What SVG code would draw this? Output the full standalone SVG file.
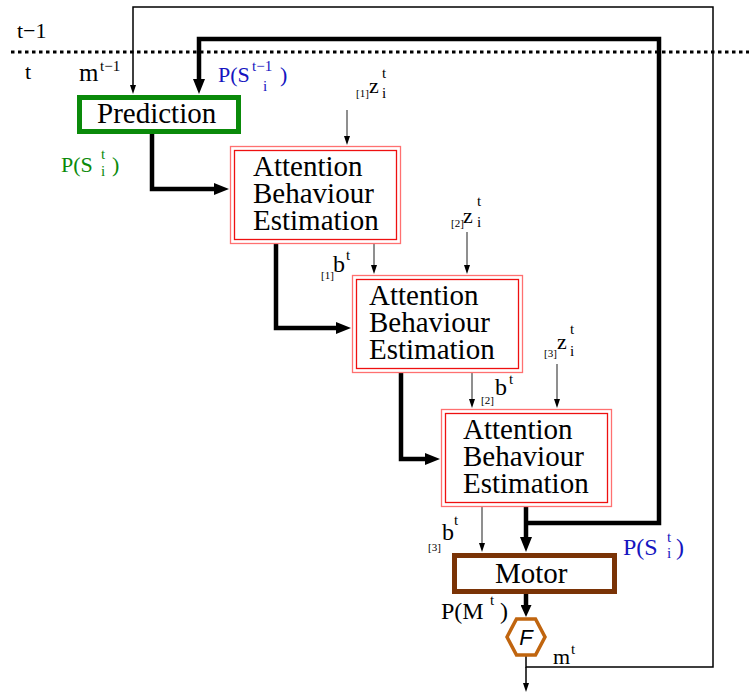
<svg xmlns="http://www.w3.org/2000/svg" width="749" height="693" viewBox="0 0 749 693">
<style>
text{font-family:"Liberation Serif","Times New Roman",serif;fill:#000}
.big{font-size:29px}
.lab{font-size:22px}
.sup{font-size:15px}
.idx{font-size:11px}
.blue{fill:#1515c0}
.green{fill:#0a8a0a}
.thick{fill:none;stroke:#000;stroke-width:4.5;stroke-linejoin:miter}
.thin{fill:none;stroke:#000;stroke-width:1.5}
.in{fill:none;stroke:#333;stroke-width:1.1}
.outer{fill:#fff;stroke:#ff7070;stroke-width:1.3}
.inner{fill:none;stroke:#ee1010;stroke-width:1.3}
</style>
<defs>
<marker id="ah" viewBox="0 0 15 12" markerWidth="15" markerHeight="12" refX="1" refY="6" orient="auto" markerUnits="userSpaceOnUse"><path d="M0,0 L15,6 L0,12 z" fill="#000"/></marker>
<marker id="ah2" viewBox="0 0 12 11" markerWidth="12" markerHeight="11" refX="1" refY="5.5" orient="auto" markerUnits="userSpaceOnUse"><path d="M0,0 L12,5.5 L0,11 z" fill="#000"/></marker>
<marker id="at" viewBox="0 0 9 6" markerWidth="9" markerHeight="6" refX="1" refY="3" orient="auto" markerUnits="userSpaceOnUse"><path d="M0,0 L9,3 L0,6 z" fill="#000"/></marker>
</defs>

<g id="timeline">
<line x1="11" y1="52" x2="749" y2="52" stroke="#000" stroke-width="3" stroke-dasharray="3.5 3.5"/>
<text class="lab" x="17" y="38">t−1</text>
<text class="lab" x="25" y="79">t</text>
</g>

<g id="connectors">
<path class="thick" d="M152,134 V189 H215" marker-end="url(#ah)"/>
<path class="thick" d="M276,243 V328 H337" marker-end="url(#ah)"/>
<path class="thick" d="M401,372 V459 H426" marker-end="url(#ah)"/>
<path class="thick" d="M526,507 V538" marker-end="url(#ah)"/>
<path class="thick" d="M526,523 H659 V39 H199 V80" marker-end="url(#ah)"/>
<path class="thick" d="M526,594 V606" marker-end="url(#ah2)"/>
<path class="thin" d="M526,656 V667 H713 V7 H133 V86" marker-end="url(#at)"/>
<path class="thin" d="M526,667 V684" marker-end="url(#at)"/>
<path class="in" d="M347,110 V137" marker-end="url(#at)"/>
<path class="in" d="M374,243 V266" marker-end="url(#at)"/>
<path class="in" d="M467,232 V266" marker-end="url(#at)"/>
<path class="in" d="M472,372 V400" marker-end="url(#at)"/>
<path class="in" d="M557,364 V400" marker-end="url(#at)"/>
<path class="in" d="M482,507 V544" marker-end="url(#at)"/>
</g>

<g id="prediction">
<rect x="79.5" y="97.5" width="159" height="34" fill="#fff" stroke="#0a8a0a" stroke-width="5"/>
<text class="big" x="97" y="123">Prediction</text>
</g>

<g id="abe1">
<rect class="outer" x="230.5" y="146.5" width="170" height="97"/>
<rect class="inner" x="234.5" y="150.5" width="162" height="89"/>
<text class="big" x="253" y="176">Attention</text>
<text class="big" x="253" y="203">Behaviour</text>
<text class="big" x="253" y="230">Estimation</text>
</g>

<g id="abe2">
<rect class="outer" x="352.5" y="275.5" width="170" height="97"/>
<rect class="inner" x="356.5" y="279.5" width="162" height="89"/>
<text class="big" x="369" y="305">Attention</text>
<text class="big" x="369" y="332">Behaviour</text>
<text class="big" x="369" y="359">Estimation</text>
</g>

<g id="abe3">
<rect class="outer" x="441.5" y="409.5" width="170" height="97"/>
<rect class="inner" x="445.5" y="413.5" width="162" height="89"/>
<text class="big" x="463" y="439">Attention</text>
<text class="big" x="463" y="466">Behaviour</text>
<text class="big" x="463" y="493">Estimation</text>
</g>

<g id="motor">
<rect x="454.5" y="555.5" width="160" height="36" fill="#fff" stroke="#7a3306" stroke-width="5"/>
<text class="big" x="495" y="583">Motor</text>
</g>

<g id="filter">
<path d="M507,637 L516.5,619 L535.5,619 L545,637 L535.5,655 L516.5,655 Z" fill="#fff" stroke="#c0650f" stroke-width="3.5"/>
<text x="526" y="645" text-anchor="middle" style="font-family:'Liberation Sans',Arial,sans-serif;font-style:italic;font-size:22px">F</text>
</g>

<g id="labels">
<text><tspan class="lab" x="79" y="81" style="font-size:25px">m</tspan><tspan class="sup" x="100" y="71">t−1</tspan></text>
<text class="blue"><tspan class="lab" x="218" y="82">P(S</tspan><tspan class="sup" x="252" y="71">t−1</tspan><tspan class="sup" x="263" y="91">i</tspan><tspan class="lab" x="280" y="82">)</tspan></text>
<text class="green"><tspan class="lab" x="61" y="172">P(S</tspan><tspan class="sup" x="101" y="159">t</tspan><tspan class="sup" x="101" y="176">i</tspan><tspan class="lab" x="112" y="172">)</tspan></text>
<text><tspan class="idx" x="356" y="97">[1]</tspan><tspan class="lab" x="369" y="93">z</tspan><tspan class="sup" x="382" y="78">t</tspan><tspan class="sup" x="382" y="98">i</tspan></text>
<text><tspan class="idx" x="451" y="227">[2]</tspan><tspan class="lab" x="463" y="223">z</tspan><tspan class="sup" x="477" y="206">t</tspan><tspan class="sup" x="477" y="227">i</tspan></text>
<text><tspan class="idx" x="544" y="357">[3]</tspan><tspan class="lab" x="557" y="349">z</tspan><tspan class="sup" x="570" y="334">t</tspan><tspan class="sup" x="570" y="356">i</tspan></text>
<text><tspan class="idx" x="321" y="279">[1]</tspan><tspan class="lab" x="333" y="272" style="font-size:24px">b</tspan><tspan class="sup" x="346" y="260">t</tspan></text>
<text><tspan class="idx" x="481" y="404">[2]</tspan><tspan class="lab" x="495" y="395" style="font-size:24px">b</tspan><tspan class="sup" x="509" y="384">t</tspan></text>
<text><tspan class="idx" x="428" y="551">[3]</tspan><tspan class="lab" x="442" y="540" style="font-size:24px">b</tspan><tspan class="sup" x="454" y="525">t</tspan></text>
<text class="blue"><tspan class="lab" x="623" y="555" style="font-size:24px">P(S</tspan><tspan class="sup" x="667" y="542">t</tspan><tspan class="sup" x="667" y="558">i</tspan><tspan class="lab" x="676" y="555" style="font-size:24px">)</tspan></text>
<text><tspan class="lab" x="441" y="619" style="font-size:24px">P(M</tspan><tspan class="sup" x="490" y="605">t</tspan><tspan class="lab" x="500" y="619" style="font-size:24px">)</tspan></text>
<text><tspan class="lab" x="553" y="664">m</tspan><tspan class="sup" x="571" y="654">t</tspan></text>
</g>
</svg>
